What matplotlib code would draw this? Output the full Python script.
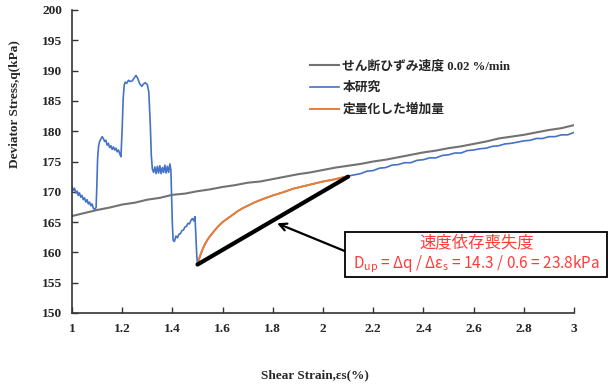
import matplotlib
matplotlib.use("Agg")
import matplotlib.pyplot as plt
from matplotlib.patches import Rectangle
import numpy as np

# ---------------- data ----------------
gray_x = [1.00, 1.05, 1.10, 1.15, 1.20, 1.25, 1.30, 1.35, 1.40, 1.45, 1.50, 1.55, 1.60, 1.65,
          1.70, 1.75, 1.80, 1.85, 1.90, 1.95, 2.00, 2.05, 2.10, 2.15, 2.20, 2.25, 2.30, 2.35,
          2.40, 2.45, 2.50, 2.55, 2.60, 2.65, 2.70, 2.75, 2.80, 2.85, 2.90, 2.95, 3.00]
gray_y = [166.0, 166.5, 167.0, 167.4, 167.9, 168.2, 168.7, 169.0, 169.5, 169.7, 170.1, 170.4,
          170.8, 171.1, 171.5, 171.7, 172.1, 172.5, 172.9, 173.2, 173.6, 174.0, 174.3, 174.6,
          175.0, 175.3, 175.7, 176.1, 176.5, 176.8, 177.2, 177.5, 177.9, 178.3, 178.8, 179.1,
          179.4, 179.8, 180.2, 180.5, 181.0]

blue_x = [1.000, 1.005, 1.010, 1.015, 1.020, 1.025, 1.030, 1.035, 1.040, 1.045, 1.050, 1.055,
          1.060, 1.065, 1.070, 1.075, 1.080, 1.085, 1.090, 1.096, 1.099, 1.102, 1.106, 1.110,
          1.115, 1.120, 1.125, 1.130, 1.135, 1.140, 1.145, 1.150, 1.155, 1.160, 1.165, 1.170,
          1.175, 1.180, 1.185, 1.190, 1.195, 1.200, 1.204, 1.208, 1.212, 1.218, 1.225, 1.232,
          1.240, 1.248, 1.255, 1.262, 1.270, 1.278, 1.285, 1.292, 1.300, 1.306, 1.312, 1.316,
          1.320, 1.325, 1.330, 1.335, 1.340, 1.345, 1.350, 1.355, 1.360, 1.365, 1.370, 1.375,
          1.380, 1.385, 1.390, 1.394, 1.397, 1.400, 1.403, 1.408, 1.414, 1.420, 1.426, 1.432,
          1.438, 1.444, 1.450, 1.456, 1.462, 1.468, 1.474, 1.480, 1.485, 1.490, 1.493, 1.497,
          1.500,
          1.505, 1.51, 1.52, 1.53, 1.54, 1.55, 1.56, 1.58, 1.60, 1.62, 1.64, 1.66, 1.68, 1.70,
          1.73, 1.76, 1.80, 1.84, 1.88, 1.92, 1.96, 2.00, 2.04, 2.08, 2.10,
          2.125, 2.150, 2.175, 2.200, 2.225, 2.250, 2.275, 2.300, 2.325, 2.350, 2.375, 2.400,
          2.425, 2.450, 2.475, 2.500, 2.525, 2.550, 2.575, 2.600, 2.625, 2.650, 2.675, 2.700,
          2.725, 2.750, 2.775, 2.800, 2.825, 2.850, 2.875, 2.900, 2.925, 2.950, 2.975, 3.000]
blue_y = [170.8, 170.2, 170.6, 169.8, 170.1, 169.4, 169.8, 169.1, 169.4, 168.7, 169.0, 168.3,
          168.7, 168.0, 168.3, 167.7, 168.0, 167.3, 167.1, 167.4, 171.0, 175.5, 177.6, 178.3,
          178.7, 179.1, 178.8, 178.3, 178.5, 177.7, 178.0, 177.3, 177.6, 177.0, 177.4, 176.9,
          177.2, 176.6, 176.9, 176.3, 175.8, 180.5, 185.5, 187.6, 188.1, 187.9, 188.4, 188.2,
          188.3, 188.8, 189.2, 188.7, 187.8, 187.4, 187.8, 188.0, 187.7, 186.5, 181.0, 176.0,
          173.8, 173.2, 174.1, 173.0, 174.2, 173.1, 174.3, 173.0, 174.0, 173.2, 174.4, 173.1,
          174.2, 173.2, 174.6, 173.5, 169.0, 164.5, 162.0, 161.8, 162.7, 162.4, 163.0, 163.1,
          163.6, 163.7, 164.2, 164.3, 164.8, 164.7, 165.3, 165.6, 165.2, 165.9, 163.0, 159.5,
          158.0,
          158.7, 159.4, 160.5, 161.4, 162.1, 162.7, 163.2, 164.2, 165.0, 165.6, 166.2, 166.8,
          167.3, 167.7, 168.3, 168.8, 169.4, 169.9, 170.5, 170.9, 171.3, 171.7, 172.0, 172.4,
          172.6,
          172.8, 173.0, 173.4, 173.5, 173.9, 174.0, 174.4, 174.5, 174.8, 174.8, 175.2, 175.3,
          175.6, 175.6, 176.0, 176.1, 176.4, 176.4, 176.8, 176.9, 177.1, 177.2, 177.5, 177.6,
          177.9, 178.0, 178.2, 178.4, 178.5, 178.8, 178.8, 179.1, 179.1, 179.4, 179.4, 179.8]

orange_x = [1.500, 1.505, 1.51, 1.52, 1.53, 1.54, 1.55, 1.56, 1.58, 1.60, 1.62, 1.64, 1.66,
            1.68, 1.70, 1.73, 1.76, 1.80, 1.84, 1.88, 1.92, 1.96, 2.00, 2.04, 2.08, 2.10]
orange_y = [158.0, 158.7, 159.4, 160.5, 161.4, 162.1, 162.7, 163.2, 164.2, 165.0, 165.6, 166.2,
            166.8, 167.3, 167.7, 168.3, 168.8, 169.4, 169.9, 170.5, 170.9, 171.3, 171.7, 172.0,
            172.4, 172.6]

chord_x = [1.50, 2.10]
chord_y = [158.0, 172.5]

arrow_head = (1.817, 164.8)
arrow_tail = (2.088, 160.2)

x_ticks = [1.0, 1.2, 1.4, 1.6, 1.8, 2.0, 2.2, 2.4, 2.6, 2.8, 3.0]
x_ticklabels = ["1", "1.2", "1.4", "1.6", "1.8", "2", "2.2", "2.4", "2.6", "2.8", "3"]
y_ticks = [150, 155, 160, 165, 170, 175, 180, 185, 190, 195, 200]

labels = ["せん断ひずみ速度 0.02 %/min", "本研究", "定量化した増加量"]

# ---------------- figure ----------------
W, H = 608, 387
fig = plt.figure(figsize=(W / 100, H / 100), dpi=100)
ax = fig.add_axes([72 / W, 1 - 313 / H, (574 - 72) / W, (313 - 10) / H])

serif_cjk = ["Liberation Serif", "Noto Sans CJK JP"]
txt_col = "#262626"

l1, = ax.plot(gray_x, gray_y, color="#727272", lw=1.5, label=labels[0])
l2, = ax.plot(blue_x, blue_y, color="#4472C4", lw=1.2, label=labels[1])
l3, = ax.plot(orange_x, orange_y, color="#ED7D31", lw=1.4, label=labels[2])
ax.plot(chord_x, chord_y, color="black", lw=3.0, solid_capstyle="round")

ax.annotate("", xy=arrow_head, xytext=arrow_tail,
            arrowprops=dict(arrowstyle="->", color="black", lw=1.6,
                            mutation_scale=13, shrinkA=0, shrinkB=0))

ax.set_xlim(1.0, 3.0)
ax.set_ylim(150, 200)
ax.set_xticks(x_ticks)
ax.set_xticklabels(x_ticklabels)
ax.set_yticks(y_ticks)
for s in ["top", "right"]:
    ax.spines[s].set_visible(False)
for s in ["left", "bottom"]:
    ax.spines[s].set_color("#333333")
    ax.spines[s].set_linewidth(1.2)
ax.tick_params(direction="in", length=4, width=1, color="#333333")
ax.tick_params(axis="y", pad=7)
ax.tick_params(axis="x", pad=7)
for lab in ax.get_xticklabels() + ax.get_yticklabels():
    lab.set_family("Liberation Serif")
    lab.set_fontweight("bold")
    lab.set_fontsize(9.6)
    lab.set_color(txt_col)

fig.text(15 / W, 1 - 104 / H, "Deviator Stress,q(kPa)", rotation=90, ha="center", va="center",
         family="Liberation Serif", fontweight="bold", fontsize=9.5, color=txt_col)
fig.text(315 / W, 1 - 375 / H, "Shear Strain,εs(%)", ha="center", va="center",
         family="Liberation Serif", fontweight="bold", fontsize=9.5, color=txt_col)

leg = ax.legend(handles=[l1, l2, l3], loc="upper left",
                bbox_to_anchor=(304 / W, 1 - 54 / H), bbox_transform=fig.transFigure,
                frameon=False, borderpad=0, handlelength=2.2, handletextpad=0.3,
                labelspacing=0.72, prop=dict(family=serif_cjk, weight="bold", size=9.2))
for t in leg.get_texts():
    t.set_color(txt_col)

# annotation box
rect = Rectangle((345 / W, 1 - 277 / H), (607 - 345) / W, (277 - 232) / H,
                 transform=fig.transFigure, facecolor="white", edgecolor="black", lw=1.3)
fig.patches.append(rect)
red = "#FF3B3B"
fig.text(477 / W, 1 - 243 / H, "速度依存喪失度", ha="center", va="center",
         family=["Noto Sans CJK JP"], fontsize=11.8, color=red)
fig.text(476 / W, 1 - 264 / H,
         r"D$_\mathregular{up}$ = Δq / Δε$_\mathregular{s}$ = 14.3 / 0.6 = 23.8kPa",
         ha="center", va="center", family=["Noto Sans CJK JP"], fontsize=11, color=red)

fig.savefig("out.png", dpi=100)
